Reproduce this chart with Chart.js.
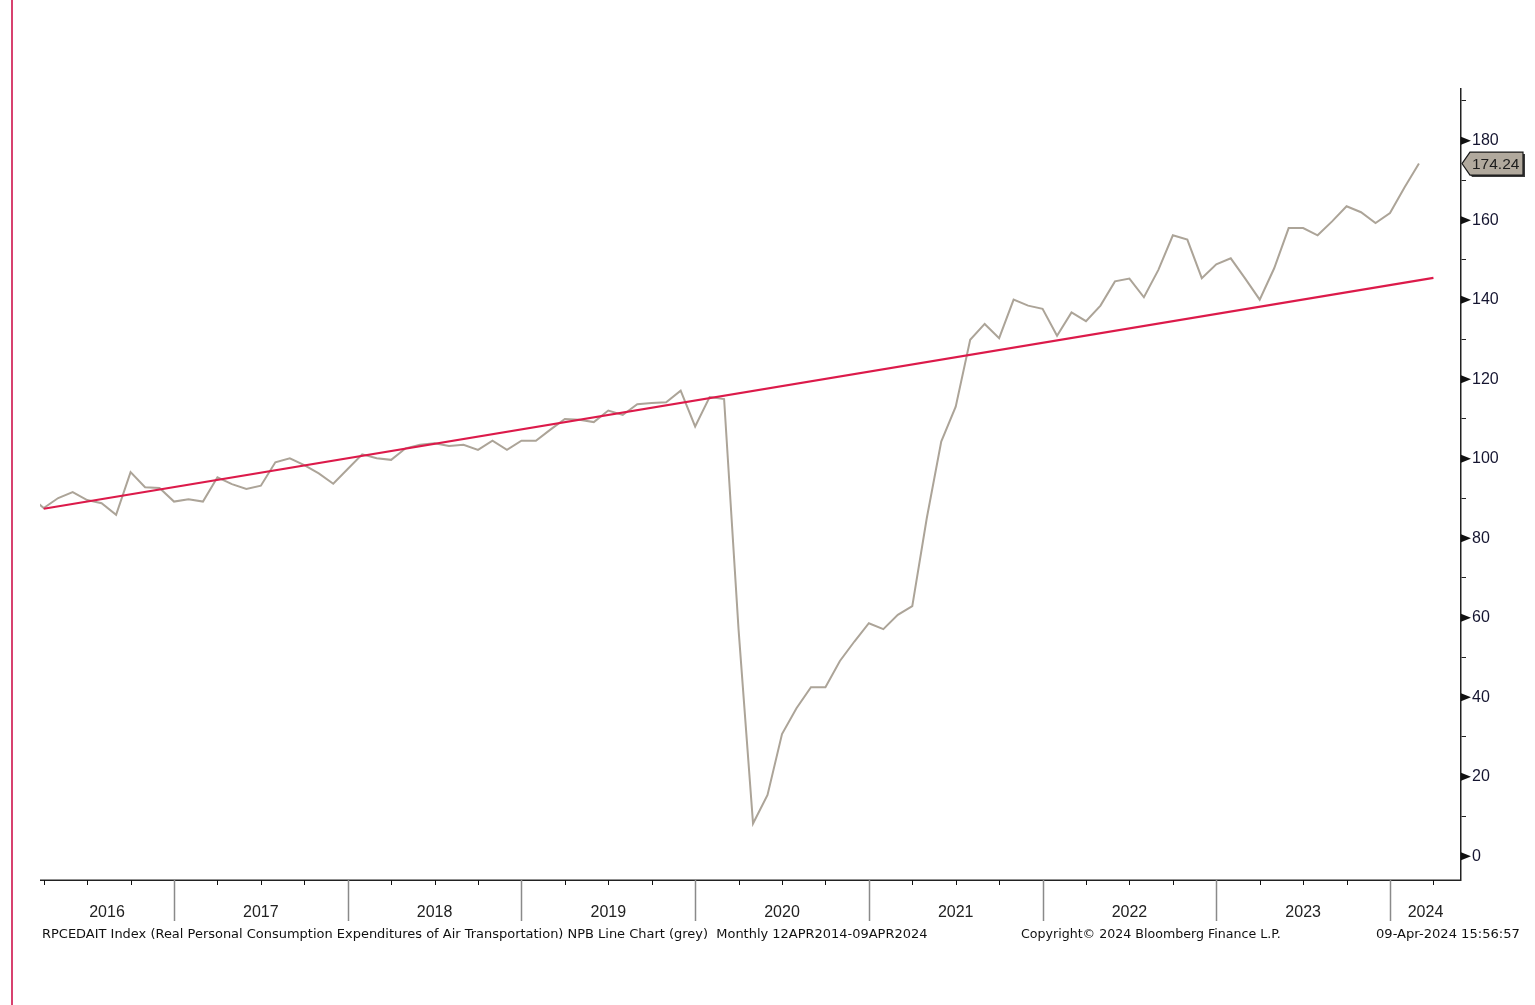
<!DOCTYPE html>
<html><head><meta charset="utf-8">
<script src="https://cdn.jsdelivr.net/npm/chart.js@4.4.1/dist/chart.umd.min.js"></script>
<style>
html,body{margin:0;padding:0;background:#fff;overflow:hidden}
#wrap{position:relative;width:1535px;height:1005px}
</style></head>
<body><div id="wrap"><canvas id="c" width="1535" height="1005"></canvas></div>
<script>
// ---- categories (month ends) ----
const months = [
  '2016-02','2016-03','2016-04','2016-05','2016-06','2016-07','2016-08','2016-09','2016-10','2016-11','2016-12',
  '2017-01','2017-02','2017-03','2017-04','2017-05','2017-06','2017-07','2017-08','2017-09','2017-10','2017-11','2017-12',
  '2018-01','2018-02','2018-03','2018-04','2018-05','2018-06','2018-07','2018-08','2018-09','2018-10','2018-11','2018-12',
  '2019-01','2019-02','2019-03','2019-04','2019-05','2019-06','2019-07','2019-08','2019-09','2019-10','2019-11','2019-12',
  '2020-01','2020-02','2020-03','2020-04','2020-05','2020-06','2020-07','2020-08','2020-09','2020-10','2020-11','2020-12',
  '2021-01','2021-02','2021-03','2021-04','2021-05','2021-06','2021-07','2021-08','2021-09','2021-10','2021-11','2021-12',
  '2022-01','2022-02','2022-03','2022-04','2022-05','2022-06','2022-07','2022-08','2022-09','2022-10','2022-11','2022-12',
  '2023-01','2023-02','2023-03','2023-04','2023-05','2023-06','2023-07','2023-08','2023-09','2023-10','2023-11','2023-12',
  '2024-01','2024-02'
];
// ---- series values (RPCEDAIT Index) ----
const values = [
  90.6, 87.6, 90.1, 91.6, 89.6, 88.8, 85.9, 96.6, 92.8, 92.6, 89.2,
  89.8, 89.2, 95.3, 93.6, 92.4, 93.2, 99.1, 100.1, 98.4, 96.3, 93.7, 97.4,
  101.1, 100.1, 99.7, 102.6, 103.5, 103.9, 103.2, 103.5, 102.2, 104.5, 102.2, 104.5,
  104.5, 107.3, 110.0, 109.8, 109.2, 112.1, 111.0, 113.7, 114.0, 114.2, 117.1, 108.1,
  115.5, 115.0, 57.0, 8.2, 15.4, 30.7, 37.2, 42.5, 42.5, 49.1, 54.0, 58.6,
  57.1, 60.7, 62.9, 85.0, 104.3, 113.1, 129.9, 133.9, 130.3, 140.0, 138.5, 137.7,
  130.9, 136.8, 134.6, 138.5, 144.6, 145.3, 140.6, 147.5, 156.2, 155.1, 145.4, 148.9,
  150.4, 145.3, 140.0, 147.9, 158.0, 158.0, 156.2, 159.7, 163.5, 162.0, 159.3, 161.8,
  168.2, 174.24
];
// ---- trend line (red) ----
const trendMonths = ['2016-03', '2024-03'];
const trendValues = [87.4, 145.5];
// ---- tick labels ----
const yearLabels = ['2016','2017','2018','2019','2020','2021','2022','2023','2024'];
const yMajorStep = 20;
const lastValueLabel = '174.24';
const footerLeft = 'RPCEDAIT Index (Real Personal Consumption Expenditures of Air Transportation) NPB Line Chart (grey)  Monthly 12APR2014-09APR2024';
const footerMid = 'Copyright\u00A9 2024 Bloomberg Finance L.P.';
const footerRight = '09-Apr-2024 15:56:57';

function monthToT(m) { const [y, mo] = m.split('-').map(Number); return (y - 2016) * 12 + mo; }
const baseYear = 2016;

const X_MIN = 2.743, X_MAX = 100.905;
const FONT_SANS = '"Liberation Sans", Arial, sans-serif';
const FONT_FOOT = '"DejaVu Sans", Verdana, sans-serif';

const decor = {
  id: 'decor',
  afterDraw(chart) {
    const ctx = chart.ctx, ca = chart.chartArea;
    const xs = chart.scales.x, ys = chart.scales.y;
    ctx.save();
    // left window border
    ctx.strokeStyle = '#d8416f'; ctx.lineWidth = 2;
    ctx.beginPath(); ctx.moveTo(12, 0); ctx.lineTo(12, 1005); ctx.stroke();

    // x axis line
    ctx.strokeStyle = '#222'; ctx.lineWidth = 1.5;
    ctx.beginPath(); ctx.moveTo(ca.left, ca.bottom + 0.25); ctx.lineTo(ca.right, ca.bottom + 0.25); ctx.stroke();
    // quarter / year ticks
    for (let t = 3; t <= X_MAX; t += 3) {
      if (t < X_MIN) continue;
      const px = Math.round(xs.getPixelForValue(t)) + 0.5;
      ctx.beginPath();
      if (t % 12 === 0) { ctx.strokeStyle = '#8a8a8a'; ctx.lineWidth = 1.5; ctx.moveTo(px, ca.bottom); ctx.lineTo(px, ca.bottom + 41); }
      else { ctx.strokeStyle = '#111'; ctx.lineWidth = 1; ctx.moveTo(px, ca.bottom); ctx.lineTo(px, ca.bottom + 5); }
      ctx.stroke();
    }
    // year labels centred in visible portion
    ctx.fillStyle = '#222'; ctx.font = '16px ' + FONT_SANS; ctx.textAlign = 'center'; ctx.textBaseline = 'alphabetic';
    yearLabels.forEach((lab) => {
      const s = (Number(lab) - baseYear) * 12, e = s + 12;
      const a = Math.max(s, X_MIN), b = Math.min(e, X_MAX);
      const cx = (xs.getPixelForValue(a) + xs.getPixelForValue(b)) / 2;
      ctx.fillText(lab, cx, ca.bottom + 37);
    });

    // y-axis major tick arrows
    ctx.fillStyle = '#111';
    ys.ticks.forEach(tk => {
      if (tk.value % yMajorStep !== 0) return;
      const py = ys.getPixelForValue(tk.value);
      ctx.beginPath(); ctx.moveTo(ca.right, py - 4); ctx.lineTo(ca.right + 10, py); ctx.lineTo(ca.right, py + 4); ctx.closePath(); ctx.fill();
    });

    // last value badge
    const lv = values[values.length - 1];
    const py = ys.getPixelForValue(lv);
    const x0 = ca.right + 1, x1 = ca.right + 9, x2 = 1523, h = 11.5;
    ctx.fillStyle = '#3a3a3a';
    ctx.beginPath(); ctx.moveTo(x0 + 2, py + 2); ctx.lineTo(x1 + 2, py - h + 2); ctx.lineTo(x2 + 2, py - h + 2); ctx.lineTo(x2 + 2, py + h + 2); ctx.lineTo(x1 + 2, py + h + 2); ctx.closePath(); ctx.fill();
    ctx.fillStyle = '#b1a99d'; ctx.strokeStyle = '#1a1a1a'; ctx.lineWidth = 1.2;
    ctx.beginPath(); ctx.moveTo(x0, py); ctx.lineTo(x1, py - h); ctx.lineTo(x2, py - h); ctx.lineTo(x2, py + h); ctx.lineTo(x1, py + h); ctx.closePath(); ctx.fill(); ctx.stroke();
    ctx.fillStyle = '#1c1c1c'; ctx.font = '15.5px ' + FONT_SANS; ctx.textAlign = 'left'; ctx.textBaseline = 'middle';
    ctx.fillText(lastValueLabel, ca.right + 11, py + 1);

    // footers (fit to reference widths)
    function fitText(txt, x, w, base) {
      ctx.font = '13px ' + FONT_FOOT;
      const m = ctx.measureText(txt).width;
      const sz = Math.min(14, 13 * w / m);
      ctx.font = sz.toFixed(2) + 'px ' + FONT_FOOT;
      ctx.fillStyle = '#111'; ctx.textAlign = 'left'; ctx.textBaseline = 'alphabetic';
      ctx.fillText(txt, x, base);
    }
    fitText(footerLeft, 42, 886, 937.5);
    fitText(footerMid, 1021, 260, 937.5);
    fitText(footerRight, 1376, 144, 937.5);
    ctx.restore();
  }
};

new Chart(document.getElementById('c'), {
  type: 'line',
  data: {
    datasets: [
      { label: 'Trend', data: trendMonths.map((m, i) => ({ x: monthToT(m), y: trendValues[i] })),
        borderColor: '#dc1a4a', borderWidth: 2.2, pointRadius: 0, tension: 0 },
      { label: 'RPCEDAIT Index', data: months.map((m, i) => ({ x: monthToT(m), y: values[i] })),
        borderColor: '#aca498', borderWidth: 2, pointRadius: 0, tension: 0 }
    ]
  },
  options: {
    responsive: false, animation: false, devicePixelRatio: 1,
    layout: { padding: { left: 40, top: 89, right: 0, bottom: 125 } },
    plugins: { legend: { display: false }, tooltip: { enabled: false } },
    scales: {
      x: { type: 'linear', min: X_MIN, max: X_MAX, display: false },
      y: {
        position: 'right', min: -6, max: 193,
        border: { display: true, color: '#222', width: 1.5 },
        grid: { display: true, drawOnChartArea: false, drawTicks: true, tickLength: 5, tickColor: '#222', lineWidth: 1 },
        ticks: { stepSize: 10, includeBounds: false, autoSkip: false, padding: 6, color: '#151530',
          font: { family: '"Liberation Sans", Arial, sans-serif', size: 16 },
          callback: (v) => (v % yMajorStep === 0 ? String(v) : '') },
        afterFit: (s) => { s.width = 74; }
      }
    }
  },
  plugins: [decor]
});
</script>
</body></html>
